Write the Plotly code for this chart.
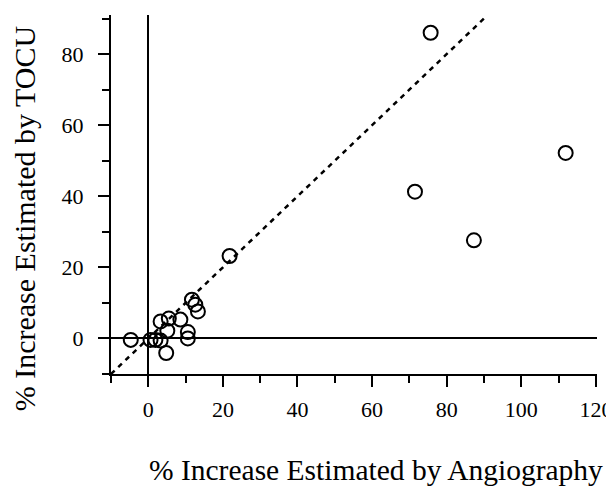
import plotly.graph_objects as go

# Data
angio = [-4.7, 0.6, 1.9, 3.3, 4.8, 3.3, 5.5, 5.1, 8.6, 10.6, 10.6, 11.7, 12.6, 13.3,
         21.8, 71.5, 75.7, 87.3, 111.9]
tocu = [-0.4, -0.4, -0.4, -0.6, -4.1, 4.8, 5.6, 2.2, 5.3, 1.8, 0.0, 10.9, 9.5, 7.6,
        23.2, 41.3, 86.0, 27.6, 52.2]
identity = [-10, 90]

x_ticks = [0, 20, 40, 60, 80, 100, 120]
y_ticks = [0, 20, 40, 60, 80]

FONT = "Liberation Serif, Times New Roman, serif"

fig = go.Figure()
fig.add_trace(go.Scatter(
    x=identity, y=identity, mode="lines",
    line=dict(color="black", width=2.5, dash="5px,5px"),
    hoverinfo="skip", showlegend=False))
fig.add_trace(go.Scatter(
    x=angio, y=tocu, mode="markers",
    marker=dict(symbol="circle-open", size=14, color="black",
                line=dict(width=2, color="black")),
    showlegend=False))

axis_common = dict(
    showline=True, linecolor="black", linewidth=2,
    ticks="outside", ticklen=11, tickwidth=2, tickcolor="black",
    showgrid=False, zeroline=True, zerolinecolor="black", zerolinewidth=1.5,
    tickfont=dict(family=FONT, size=22, color="black"),
    automargin=False,
    minor=dict(ticks="outside", ticklen=7, tickwidth=2, tickcolor="black", dtick=10, tick0=-10),
)

fig.update_xaxes(range=[-10, 120.3], tickvals=x_ticks, ticktext=[str(v) for v in x_ticks],
                 ticklabelstandoff=4, **axis_common)
fig.update_yaxes(range=[-10, 91], tickvals=y_ticks, ticktext=[str(v) for v in y_ticks],
                 ticklabelstandoff=10, **axis_common)

fig.add_annotation(text="% Increase Estimated by Angiography", xref="paper", yref="paper",
                   x=0.546, y=-0.267, xanchor="center", yanchor="middle", showarrow=False,
                   font=dict(family=FONT, size=29.5, color="black"))
fig.add_annotation(text="% Increase Estimated by TOCU", xref="paper", yref="paper",
                   x=-0.178, y=0.435, xanchor="center", yanchor="middle", showarrow=False,
                   textangle=-90, font=dict(family=FONT, size=30, color="black"))

# The page body has an 8px margin, so the figure is sized to fit the 614x495 window.
fig.update_layout(
    width=606, height=487,
    margin=dict(l=103, r=17, t=7, b=121, autoexpand=False),
    font=dict(family=FONT, size=22, color="black"),
    plot_bgcolor="white", paper_bgcolor="white",
    showlegend=False,
)

fig.write_html("out.html")
